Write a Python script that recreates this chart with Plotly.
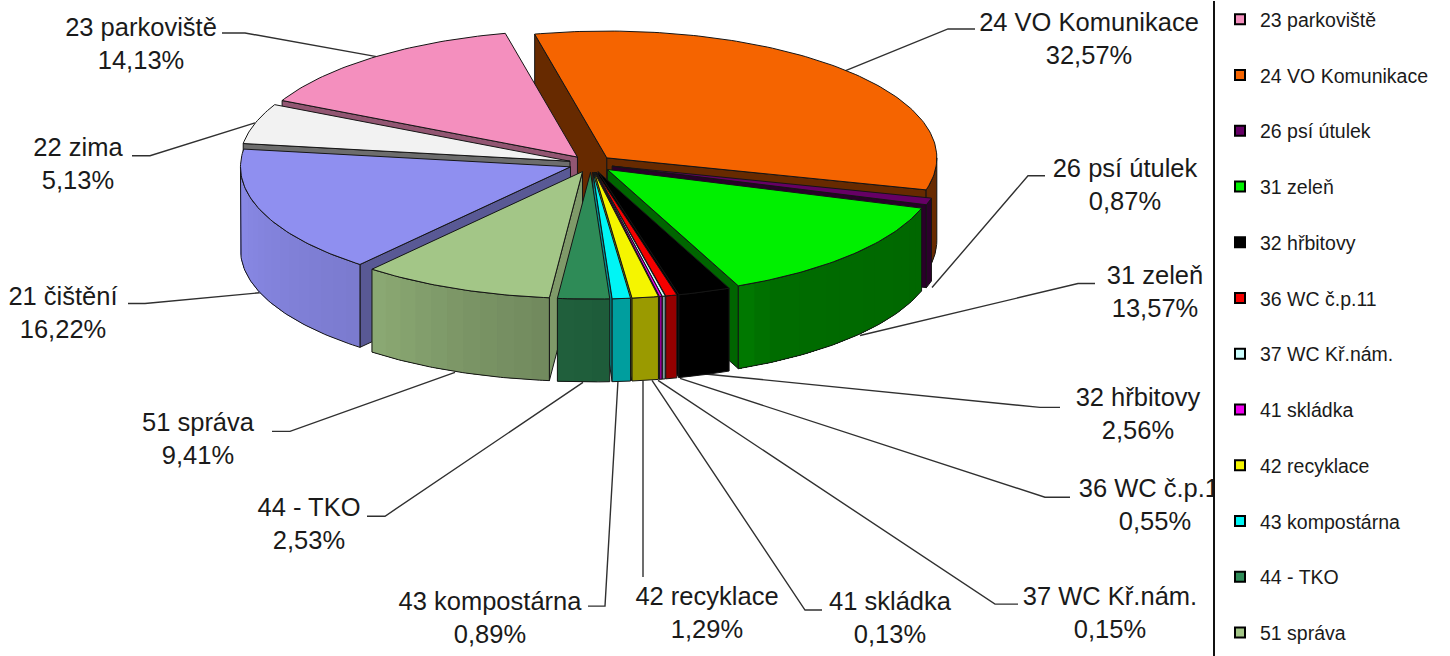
import numpy as np
import plotly.graph_objects as go

# ---- data ----
categories = ["23 parkoviště", "24 VO Komunikace", "26 psí útulek", "31 zeleň", "32 hřbitovy",
              "36 WC č.p.11", "37 WC Kř.nám.", "41 skládka", "42 recyklace", "43 kompostárna",
              "44 - TKO", "51 správa", "21 čištění", "22 zima"]
values = [14.13, 32.57, 0.87, 13.57, 2.56, 0.55, 0.15, 0.13, 1.29, 0.89, 2.53, 9.41, 16.22, 5.13]
value_labels = ["14,13%", "32,57%", "0,87%", "13,57%", "2,56%", "0,55%", "0,15%", "0,13%",
                "1,29%", "0,89%", "2,53%", "9,41%", "16,22%", "5,13%"]
colors = ["#F48FBE", "#F56400", "#660066", "#00F000", "#000000", "#F50000", "#CCFFFF", "#F000F0",
          "#F5F500", "#00F5F5", "#2E8B57", "#A3C687", "#8F8FF0", "#F2F2F2"]
legend_names = categories[:12]
# label anchor (pixels of the page) and leader line
label_x = [141, 1089, 1125, 1155, 1138, 1155, 1110, 890, 707, 490, 309, 198, 63, 78]
label_y = [45, 40, 186, 294, 416, 507, 615, 620, 615, 620, 526, 441, 315, 165]
leaders = [
    [(222, 32), (245, 32), (378, 56)],
    [(975, 28), (948, 28), (845, 70)],
    [(1045, 175), (1028, 175), (932, 287)],
    [(1095, 283), (1078, 283), (860, 335)],
    [(1060, 407), (1040, 407), (700, 373)],
    [(1070, 497), (1045, 497), (680, 378)],
    [(1018, 604), (995, 604), (658, 380)],
    [(822, 610), (805, 610), (652, 380)],
    [(643, 577), (643, 380)],
    [(588, 606), (605, 606), (618, 380)],
    [(367, 516), (385, 516), (583, 382)],
    [(272, 431), (290, 431), (455, 372)],
    [(128, 303), (145, 303), (262, 292)],
    [(132, 155), (150, 155), (255, 122)],
]

# ---- projection of the pie ----
CX, CY = 591.0, 163.0
A, B = 330.0, 127.0
EX, EY = 22.0, 8.5
DEPTH = 83.0
START = 296.5
LINE = "#151515"
radial_shade = [0.6, 0.42, 0.4, 0.42, 1, 0.6, 0.6, 0.45, 0.6, 0.6, 0.68, 0.78, 0.62, 0.45]


def shade(hexcol, f):
    rgb = [int(hexcol[i:i + 2], 16) for i in (1, 3, 5)]
    return "rgb(%d,%d,%d)" % tuple(round(c * f) for c in rgb)


def wall_factor(t):
    return float(np.interp(t, [90, 150, 165, 180, 200, 220, 270], [.42, .45, .6, .67, .75, .86, .97]))


fig = go.Figure()


def poly(xs, ys, fill=None, line=LINE, width=1.0):
    fig.add_trace(go.Scatter(
        x=xs, y=ys, mode="lines", showlegend=False, hoverinfo="skip",
        fill="toself" if fill else None, fillcolor=fill,
        line=dict(color=line, width=width)))


# leader lines below the pie
for pts in leaders:
    poly([p[0] for p in pts], [p[1] for p in pts], line="#303030", width=1.4)

spans = np.array(values) / sum(values) * 360
starts = START + np.concatenate([[0], np.cumsum(spans)[:-1]])


def back_distance(s, e):
    s, e = s % 360, e % 360
    if s > e:
        return 0.0
    return min(min(s, 360 - s), min(e, 360 - e))


order = sorted(range(len(values)), key=lambda i: back_distance(starts[i], starts[i] + spans[i]))


def pt(t, apex):
    r = np.radians(t)
    return apex[0] + A * np.sin(r), apex[1] - B * np.cos(r)


for i in order:
    s, e = starts[i], starts[i] + spans[i]
    mid = np.radians((s + e) / 2)
    apex = (CX + EX * np.sin(mid), CY - EY * np.cos(mid))
    col = colors[i]
    # radial walls: only the faces turned towards the viewer
    for t, visible in ((s, np.sin(np.radians(s)) < 0), (e, np.sin(np.radians(e)) > 0)):
        if visible:
            x, y = pt(t, apex)
            poly([apex[0], x, x, apex[0], apex[0]],
                 [apex[1], y, y + DEPTH, apex[1] + DEPTH, apex[1]],
                 fill=shade(col, radial_shade[i]))
    # outer wall with stepped shading (each step paints over the rest of the wall)
    for base in (s, s - 360):
        lo, hi = max(base, 90), min(base + spans[i], 270)
        if hi > lo:
            edges = np.linspace(lo, hi, max(2, int((hi - lo) / 3) + 1))
            for a0, a1 in zip(edges[:-1], edges[1:]):
                ts = np.linspace(a0, hi, max(4, int(hi - a0) + 2))
                x, y = pt(ts, apex)
                c = shade(col, wall_factor((a0 + a1) / 2))
                poly(list(x) + list(x[::-1]) + [x[0]],
                     list(y) + list(y[::-1] + DEPTH) + [y[0]], fill=c, line=c, width=0)
            ts = np.linspace(lo, hi, 60)
            x, y = pt(ts, apex)
            poly(list(x) + list(x[::-1]) + [x[0]],
                 list(y) + list(y[::-1] + DEPTH) + [y[0]])
    # top face
    ts = np.linspace(s, e, max(3, int(spans[i]) + 2))
    x, y = pt(ts, apex)
    poly([apex[0]] + list(x) + [apex[0]], [apex[1]] + list(y) + [apex[1]], fill=col)

# data labels, clipped by the plot area like the legend edge in the reference
fig.add_trace(go.Scatter(
    x=label_x, y=label_y, mode="text", showlegend=False, hoverinfo="skip",
    text=[c + "<br>" + v for c, v in zip(categories, value_labels)],
    textposition="middle center", cliponaxis=True,
    textfont=dict(family="Liberation Sans", size=25.5, color="#1a1a1a")))

# legend entries
for n in legend_names:
    c = colors[categories.index(n)]
    fig.add_trace(go.Scatter(
        x=[None], y=[None], mode="markers", name=n, legendgroup=n, hoverinfo="skip",
        marker=dict(symbol="square", size=10, color=c, line=dict(color="#000000", width=2))))

fig.update_layout(
    width=1450, height=656, margin=dict(l=0, r=0, t=0, b=0),
    paper_bgcolor="white", plot_bgcolor="white",
    xaxis=dict(domain=[0, 1213 / 1450], range=[0, 1213], visible=False, fixedrange=True),
    yaxis=dict(range=[656, 0], side="right", showline=True, linecolor="#111111", linewidth=2,
               showticklabels=False, ticks="", showgrid=False, zeroline=False, fixedrange=True),
    legend=dict(x=1220 / 1450, y=1 + 1 / 656, xanchor="left", yanchor="top",
                tracegroupgap=27.4, itemclick=False, itemdoubleclick=False, maxheight=720,
                font=dict(family="Liberation Sans", size=19.5, color="#1a1a1a"),
                bgcolor="rgba(0,0,0,0)"),
    showlegend=True,
)
fig.write_html("out.html", config=dict(displayModeBar=False),
               post_script="document.body.style.margin='0';document.documentElement.style.overflow='hidden';")
